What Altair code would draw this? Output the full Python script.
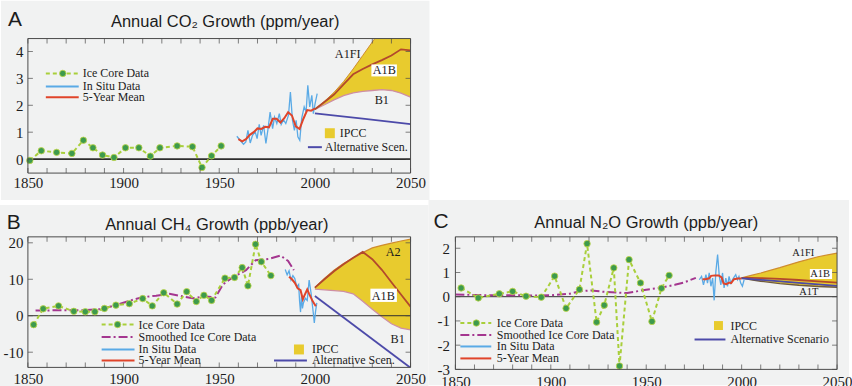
import altair as alt
import pandas as pd

# ---------------- CO2 growth (ppm/year) ----------------
CO2_ICE_YEAR = [1851, 1857, 1865, 1873, 1879, 1884, 1889, 1895, 1901, 1908, 1914,
                1919, 1928, 1936, 1941, 1946, 1951]
CO2_ICE = [-0.05, 0.31, 0.25, 0.21, 0.70, 0.42, 0.15, 0.06, 0.42, 0.42, 0.11,
           0.42, 0.49, 0.46, -0.31, 0.12, 0.49]

CO2_INSITU_YEAR = [1959.2, 1960.9, 1962.7, 1963.9, 1965.0, 1966.2, 1967.4, 1968.8, 1969.8, 1970.9,
                   1971.9, 1973.2, 1974.4, 1975.4, 1976.6, 1977.9, 1978.9, 1980.1, 1981.4, 1982.4,
                   1983.6, 1984.8, 1986.2, 1987.2, 1988.3, 1989.3, 1990.2, 1991.1, 1992.1, 1993.1,
                   1994.4, 1995.4, 1996.3, 1997.3, 1998.4, 1999.2, 2000.1, 2001.2]
CO2_INSITU = [0.85, 0.70, 0.55, 0.64, 1.07, 0.60, 0.88, 1.01, 0.76, 1.29,
              0.88, 1.25, 0.58, 1.07, 1.75, 1.13, 1.56, 1.32, 1.69, 1.29,
              1.46, 1.32, 1.63, 2.49, 1.44, 1.07, 1.44, 0.83, 0.70, 1.51,
              1.94, 1.75, 2.74, 1.94, 2.37, 1.69, 2.06, 2.43]

CO2_MEAN_YEAR = [1960, 1962, 1964, 1966, 1968, 1970, 1972, 1974, 1976, 1978, 1980,
                 1982, 1984, 1986, 1988, 1990, 1992, 1994, 1996, 1998, 2000]
CO2_MEAN = [0.74, 0.66, 0.74, 0.90, 1.00, 1.14, 1.12, 1.20, 1.18, 1.50, 1.50,
            1.36, 1.52, 1.74, 1.62, 1.22, 1.12, 1.50, 1.82, 1.80, 1.88]

CO2_SCEN_YEAR = [2000, 2005, 2010, 2015, 2020, 2025, 2030, 2035, 2040, 2045, 2050]
CO2_A1FI = [1.85, 2.15, 2.48, 2.88, 3.35, 3.85, 4.35, 4.85, 5.30, 5.70, 6.00]
CO2_A1B = [1.85, 2.12, 2.40, 2.78, 3.15, 3.35, 3.52, 3.68, 3.85, 4.08, 4.04]
CO2_B1 = [1.85, 2.02, 2.20, 2.36, 2.46, 2.52, 2.55, 2.58, 2.55, 2.45, 2.30]
CO2_ALT_YEAR = [2000, 2025, 2050]
CO2_ALT = [1.70, 1.50, 1.30]

# ---------------- CH4 growth (ppb/year) ----------------
CH4_ICE_YEAR = [1853, 1858, 1866, 1874, 1880, 1885, 1890, 1896, 1903, 1910, 1915, 1921,
                1928, 1933, 1938, 1942, 1946, 1953, 1958, 1962, 1965, 1969, 1972, 1977]
CH4_ICE = [-2.45, 1.9, 2.7, 1.2, 1.1, 1.1, 2.0, 2.9, 3.3, 4.7, 2.7, 6.3,
           3.2, 6.6, 3.9, 5.6, 4.2, 10.3, 10.5, 13.2, 8.2, 19.6, 14.8, 11.0]

CH4_SMOOTH_YEAR = [1854, 1866, 1878, 1888, 1896, 1903, 1910, 1917, 1924, 1930, 1936,
                   1943, 1948, 1952, 1957, 1964, 1969, 1976, 1982, 1986, 1989]
CH4_SMOOTH = [1.4, 1.5, 1.5, 1.8, 2.9, 4.1, 5.1, 5.5, 6.0, 5.4, 4.8,
              5.3, 5.0, 8.6, 10.5, 12.5, 15.2, 15.6, 16.5, 15.0, 12.5]

CH4_INSITU_YEAR = [1984.5, 1985.5, 1986.5, 1987.5, 1988.5, 1989.5, 1990.5, 1991.5, 1992.0, 1992.5,
                   1993.0, 1993.5, 1994.0, 1995.0, 1996.0, 1997.0, 1998.0, 1999.0, 1999.7, 2000.3,
                   2001.0]
CH4_INSITU = [12.7, 11.2, 12.3, 9.8, 11.0, 10.2, 8.0, 8.6, 4.0, 1.0,
              5.6, 2.0, 3.5, 4.8, 4.2, 9.8, 6.2, 1.5, -2.0, 1.0,
              3.5]

CH4_MEAN_YEAR = [1986.5, 1988, 1989.5, 1991, 1992.5, 1993.7, 1994.5, 1996, 1997, 1998.8, 2000.5]
CH4_MEAN = [10.7, 10.0, 9.0, 7.5, 7.0, 4.5, 5.5, 7.2, 6.0, 4.0, 2.6]

CH4_SCEN_YEAR = [2000, 2005, 2010, 2015, 2020, 2025, 2030, 2035, 2040, 2045, 2050]
CH4_A2 = [7.7, 10.2, 12.5, 14.3, 15.8, 17.3, 18.6, 19.3, 19.9, 20.5, 21.0]
CH4_A1B = [7.7, 10.0, 12.2, 14.1, 15.9, 17.5, 15.5, 12.6, 9.2, 5.8, 2.5]
CH4_B1 = [7.3, 7.1, 6.9, 6.7, 6.0, 4.0, 1.8, -0.3, -2.2, -3.4, -3.9]
CH4_ALT_YEAR = [2000, 2050]
CH4_ALT = [5.4, -14.3]

# ---------------- N2O growth (ppb/year) ----------------
N2O_ICE_YEAR = [1853, 1862, 1873, 1880, 1887, 1895, 1902, 1908, 1915, 1919,
                1924, 1928, 1933, 1936, 1941, 1947, 1953, 1958, 1962]
N2O_ICE = [0.36, -0.05, 0.12, 0.22, 0.02, -0.02, 0.85, -0.48, 0.30, 2.19,
           -1.05, -0.35, 1.19, -2.86, 1.53, 0.57, -1.02, 0.35, 0.88]

N2O_SMOOTH_YEAR = [1850, 1860, 1870, 1880, 1890, 1900, 1910, 1915, 1921, 1928,
                   1935, 1940, 1945, 1950, 1955, 1960, 1965, 1970, 1976]
N2O_SMOOTH = [0.09, 0.07, 0.06, 0.06, 0.05, 0.06, 0.12, 0.22, 0.26, 0.20,
              0.17, 0.15, 0.22, 0.29, 0.34, 0.41, 0.49, 0.59, 0.78]

N2O_INSITU_YEAR = [1977.8, 1979.0, 1980.0, 1981.3, 1982.1, 1983.0, 1983.9, 1984.8, 1985.6, 1986.5,
                   1987.4, 1988.3, 1989.1, 1990.0, 1990.8, 1991.7, 1992.6, 1993.4, 1994.3, 1995.7,
                   1996.9, 1997.8, 1998.6, 1999.5, 2000.4, 2001.3]
N2O_INSITU = [0.70, 0.84, 0.49, 0.91, 0.56, 0.98, 0.43, 0.77, -0.15, 1.04,
              1.74, 0.84, 0.49, 0.98, 0.36, 0.77, 0.43, 0.84, 0.56, 0.77,
              0.91, 0.70, 0.84, 0.56, 0.43, 0.70]

N2O_MEAN_YEAR = [1979.5, 1981, 1983, 1984, 1986, 1988, 1989.5, 1990.5, 1992, 1993.5,
                 1994.5, 1996, 1998, 2000]
N2O_MEAN = [0.72, 0.72, 0.76, 0.86, 0.88, 0.88, 0.80, 0.55, 0.52, 0.58,
            0.56, 0.72, 0.75, 0.75]

N2O_SCEN_YEAR = [2000, 2005, 2010, 2020, 2030, 2040, 2050]
N2O_A1FI = [0.78, 0.88, 0.98, 1.20, 1.44, 1.65, 1.80]
N2O_A1B = [0.78, 0.78, 0.77, 0.74, 0.69, 0.63, 0.58]
N2O_A1T = [0.78, 0.70, 0.64, 0.54, 0.47, 0.42, 0.39]
N2O_ALT_YEAR = [2000, 2025, 2050]
N2O_ALT = [0.76, 0.60, 0.45]

# axis labels and frame ticks
X_LABELS = [1850, 1900, 1950, 2000, 2050]
X_TICKS = [1850, 1860, 1870, 1880, 1890, 1900, 1910, 1920, 1930, 1940, 1950,
           1960, 1970, 1980, 1990, 2000, 2010, 2020, 2030, 2040, 2050]

# ---------------- styling ----------------
BG = "#f1f2f2"
FRAME = "#4a4a4a"
ZERO = "#2e2e2e"
ICE_LINE = "#a9cf3b"
ICE_DOT = "#3d9a4d"
ICE_RIM = "#c3d846"
INSITU = "#5aaae6"
MEAN = "#e0442a"
SMOOTH = "#a4368f"
IPCC = "#e8cb2e"
UPPER_EDGE = "#cf8c2e"
LOWER_EDGE = "#cf8fa3"
A1B_LINE = "#b3492c"
A1T_LINE = "#6e5a3c"
ALT_LINE = "#4c4aa9"
INK = "#1c1c1c"
SERIF = "Liberation Serif"
SANS = "Liberation Sans"

ONE = pd.DataFrame({"k": [0]})


def deco():
    return alt.Chart(ONE)


def series(years, vals):
    return pd.DataFrame({"year": years, "v": vals})


def encodings(ydom, ylabels, xpad, ypad):
    X = alt.X("year:Q",
              scale=alt.Scale(domain=[1850, 2050], nice=False, zero=False),
              axis=alt.Axis(values=X_LABELS, format="d", title=None, labelPadding=xpad,
                            zindex=2))
    Y = alt.Y("v:Q",
              scale=alt.Scale(domain=ydom, nice=False, zero=False),
              axis=alt.Axis(values=ylabels, title=None, labelPadding=ypad, zindex=2,
                            labelExpr="replace(datum.label, '\u2212', '-')"))
    return X, Y


def background(x0, x1, y0, y1):
    return deco().mark_rect(color=BG).encode(
        x=alt.value(x0), x2=alt.value(x1), y=alt.value(y0), y2=alt.value(y1))


def frame(W, H, X, Y, yticks):
    tx = pd.DataFrame({"year": X_TICKS})
    ty = pd.DataFrame({"v": yticks})
    tick = dict(size=5, thickness=1, color=FRAME)
    return [
        alt.Chart(tx).mark_tick(orient="vertical", **tick).encode(x=X, y=alt.value(H - 2.5)),
        alt.Chart(tx).mark_tick(orient="vertical", **tick).encode(x=X, y=alt.value(2.5)),
        alt.Chart(ty).mark_tick(orient="horizontal", **tick).encode(y=Y, x=alt.value(2.5)),
        alt.Chart(ty).mark_tick(orient="horizontal", **tick).encode(y=Y, x=alt.value(W - 2.5)),
        deco().mark_rect(fillOpacity=0, stroke=FRAME, strokeWidth=1).encode(
            x=alt.value(0), x2=alt.value(W), y=alt.value(0), y2=alt.value(H)),
    ]


def line(years, vals, color, width, X, Y, dash=None, clip=True):
    kw = dict(color=color, strokeWidth=width, clip=clip)
    if dash:
        kw["strokeDash"] = dash
    return alt.Chart(series(years, vals)).mark_line(**kw).encode(x=X, y=Y)


def band(years, lo, hi, X, Y):
    d = pd.DataFrame({"year": years, "v": lo, "v2": hi})
    return alt.Chart(d).mark_area(color=IPCC, opacity=1, clip=True).encode(x=X, y=Y, y2="v2:Q")


def zero_rule(Y, width):
    return alt.Chart(pd.DataFrame({"v": [0]})).mark_rule(color=ZERO, strokeWidth=width).encode(y=Y)


def ice(years, vals, X, Y):
    d = series(years, vals)
    return [
        alt.Chart(d).mark_line(color=ICE_LINE, strokeWidth=2, strokeDash=[4, 3]).encode(x=X, y=Y),
        alt.Chart(d).mark_circle(size=42, fill=ICE_DOT, stroke=ICE_RIM, strokeWidth=0.8,
                                 opacity=1).encode(x=X, y=Y),
    ]


def key_line(x1, x2, y, color, width=2, dash=None):
    kw = dict(color=color, strokeWidth=width)
    if dash:
        kw["strokeDash"] = dash
    return deco().mark_rule(**kw).encode(x=alt.value(x1), x2=alt.value(x2), y=alt.value(y))


def key_dot(x, y):
    return deco().mark_circle(size=42, fill=ICE_DOT, stroke=ICE_RIM, strokeWidth=0.8,
                              opacity=1).encode(x=alt.value(x), y=alt.value(y))


def box(x1, x2, y1, y2, color):
    return deco().mark_rect(color=color).encode(
        x=alt.value(x1), x2=alt.value(x2), y=alt.value(y1), y2=alt.value(y2))


def text(s, x, y, size, font=SERIF, align="left", baseline="middle"):
    return deco().mark_text(text=s, font=font, fontSize=size, align=align,
                            baseline=baseline, color=INK).encode(x=alt.value(x), y=alt.value(y))


def heading(letter, title, lx, ly, tx, ty):
    return [
        text(letter, lx, ly, 21, font=SANS, baseline="alphabetic"),
        text(title, tx, ty, 16.5, font=SANS, align="center", baseline="alphabetic"),
    ]


def panel_co2():
    W, H = 384, 135
    X, Y = encodings([-0.52, 4.48], [0, 1, 2, 3, 4], xpad=2, ypad=5)
    L = [background(-27, 403, -38, 162)]
    L.append(band(CO2_SCEN_YEAR, CO2_B1, CO2_A1FI, X, Y))
    L.append(line(CO2_SCEN_YEAR, CO2_A1FI, UPPER_EDGE, 1, X, Y))
    L.append(line(CO2_SCEN_YEAR, CO2_B1, LOWER_EDGE, 1.3, X, Y))
    L.append(zero_rule(Y, 1.6))
    L += ice(CO2_ICE_YEAR, CO2_ICE, X, Y)
    L.append(line(CO2_INSITU_YEAR, CO2_INSITU, INSITU, 1.3, X, Y))
    L.append(line(CO2_MEAN_YEAR, CO2_MEAN, MEAN, 2, X, Y))
    L.append(line(CO2_SCEN_YEAR, CO2_A1B, A1B_LINE, 1.8, X, Y))
    L.append(line(CO2_ALT_YEAR, CO2_ALT, ALT_LINE, 1.8, X, Y))
    # scenario names
    L.append(text("A1FI", 308, 16, 12.3))
    L.append(box(344.7, 370.3, 26, 38, "white"))
    L.append(text("A1B", 346, 32, 12.3))
    L.append(text("B1", 348, 61.5, 12.3))
    # legend
    L.append(key_line(18, 51, 35, ICE_LINE, 2, [4, 3]))
    L.append(key_dot(35, 35))
    L.append(text("Ice Core Data", 55, 35, 12))
    L.append(key_line(18, 51, 48, INSITU, 2))
    L.append(text("In Situ Data", 55, 48, 12))
    L.append(key_line(18, 51, 59, MEAN, 2))
    L.append(text("5-Year Mean", 55, 59, 12))
    L.append(box(298, 308, 90, 100, IPCC))
    L.append(text("IPCC", 313, 95, 12))
    L.append(key_line(281, 295, 109, ALT_LINE, 2))
    L.append(text("Alternative Scen.", 298, 109, 12))
    L += frame(W, H, X, Y, [0, 1, 2, 3, 4])
    L += heading("A", "Annual CO\u2082 Growth (ppm/year)", -20, -13, 198, -11.3)
    return alt.layer(*L).properties(width=W, height=H)


def panel_ch4():
    W, H = 384, 131
    X, Y = encodings([-14.17, 21.63], [-10, 0, 10, 20], xpad=4, ypad=5)
    L = [background(-28, 402, -32, 154)]
    L.append(band(CH4_SCEN_YEAR, CH4_B1, CH4_A2, X, Y))
    L.append(line(CH4_SCEN_YEAR, CH4_A2, UPPER_EDGE, 1.2, X, Y))
    L.append(line(CH4_SCEN_YEAR, CH4_B1, LOWER_EDGE, 1.3, X, Y))
    L.append(zero_rule(Y, 1))
    L.append(line(CH4_SMOOTH_YEAR, CH4_SMOOTH, SMOOTH, 2, X, Y, dash=[9, 3, 2, 3]))
    L += ice(CH4_ICE_YEAR, CH4_ICE, X, Y)
    L.append(line(CH4_INSITU_YEAR, CH4_INSITU, INSITU, 1.3, X, Y))
    L.append(line(CH4_MEAN_YEAR, CH4_MEAN, MEAN, 2, X, Y))
    L.append(line(CH4_SCEN_YEAR, CH4_A1B, A1B_LINE, 1.8, X, Y))
    L.append(line(CH4_ALT_YEAR, CH4_ALT, ALT_LINE, 1.8, X, Y))
    L.append(text("A2", 359, 15.5, 12.3))
    L.append(box(343.7, 370.3, 52, 65.3, "white"))
    L.append(text("A1B", 345, 59, 12.3))
    L.append(text("B1", 364, 103, 12.3))
    L.append(key_line(74, 107, 88, ICE_LINE, 2, [4, 3]))
    L.append(key_dot(90, 88))
    L.append(text("Ice Core Data", 111, 88, 12))
    L.append(key_line(74, 107, 100.5, SMOOTH, 2, [9, 3, 2, 3]))
    L.append(text("Smoothed Ice Core Data", 111, 100.5, 12))
    L.append(key_line(74, 107, 113, INSITU, 2))
    L.append(text("In Situ Data", 111, 113, 12))
    L.append(key_line(74, 107, 124, MEAN, 2))
    L.append(text("5-Year Mean", 111, 124, 12))
    L.append(box(267, 277, 108, 118, IPCC))
    L.append(text("IPCC", 285, 113, 12))
    L.append(key_line(247, 280, 124, ALT_LINE, 2))
    L.append(text("Alternative Scen.", 285, 124, 12))
    L += frame(W, H, X, Y, [-10, 0, 10, 20])
    L += heading("B", "Annual CH\u2084 Growth (ppb/year)", -21.3, -8, 189.5, -7)
    return alt.layer(*L).properties(width=W, height=H)


def panel_n2o():
    W, H = 383, 133
    X, Y = encodings([-3, 2.47], [-3, -2, -1, 0, 1, 2], xpad=5, ypad=6)
    L = [background(-27, 395, -37, 149)]
    L.append(band(N2O_SCEN_YEAR, N2O_A1T, N2O_A1FI, X, Y))
    L.append(line(N2O_SCEN_YEAR, N2O_A1FI, UPPER_EDGE, 1.2, X, Y))
    L.append(zero_rule(Y, 1))
    L.append(line(N2O_SMOOTH_YEAR, N2O_SMOOTH, SMOOTH, 2, X, Y, dash=[9, 3, 2, 3]))
    L += ice(N2O_ICE_YEAR, N2O_ICE, X, Y)
    L.append(line(N2O_INSITU_YEAR, N2O_INSITU, INSITU, 1.3, X, Y))
    L.append(line(N2O_MEAN_YEAR, N2O_MEAN, MEAN, 2, X, Y))
    L.append(line(N2O_SCEN_YEAR, N2O_A1T, A1T_LINE, 1.4, X, Y))
    L.append(line(N2O_SCEN_YEAR, N2O_A1B, A1B_LINE, 1.8, X, Y))
    L.append(line(N2O_ALT_YEAR, N2O_ALT, ALT_LINE, 1.8, X, Y))
    L.append(text("A1FI", 338, 16.5, 10.5))
    L.append(box(355.7, 378, 32.3, 42.3, "white"))
    L.append(text("A1B", 356, 37, 10.5))
    L.append(text("A1T", 345, 55, 10.5))
    L.append(key_line(5, 36, 86.5, ICE_LINE, 2, [4, 3]))
    L.append(key_dot(21, 86.5))
    L.append(text("Ice Core Data", 41.5, 86.5, 12))
    L.append(key_line(5, 36, 98.5, SMOOTH, 2, [9, 3, 2, 3]))
    L.append(text("Smoothed Ice Core Data", 41.5, 98.5, 12))
    L.append(key_line(5, 36, 110, INSITU, 2))
    L.append(text("In Situ Data", 41.5, 110, 12))
    L.append(key_line(5, 36, 122, MEAN, 2))
    L.append(text("5-Year Mean", 41.5, 122, 12))
    L.append(box(259.5, 268.5, 84.5, 93.5, IPCC))
    L.append(text("IPCC", 276, 89, 12))
    L.append(key_line(240, 271, 103, ALT_LINE, 2))
    L.append(text("Alternative Scenario", 276, 103, 12))
    L += frame(W, H, X, Y, [-3, -2, -1, 0, 1, 2])
    L += heading("C", "Annual N\u2082O Growth (ppb/year)", -22, -9, 191.5, -8.7)
    return alt.layer(*L).properties(width=W, height=H)


chart = alt.vconcat(
    panel_co2(),
    alt.hconcat(panel_ch4(), panel_n2o(), spacing=0),
    spacing=0,
).properties(
    padding=0, background="white"
).configure_view(
    strokeWidth=0
).configure_axis(
    ticks=False, tickSize=0, domain=False, grid=False, labelFlush=False,
    labelFont=SERIF, labelFontSize=15, labelColor=INK
)

chart.save("out.html", embed_options={"renderer": "svg", "actions": False})
